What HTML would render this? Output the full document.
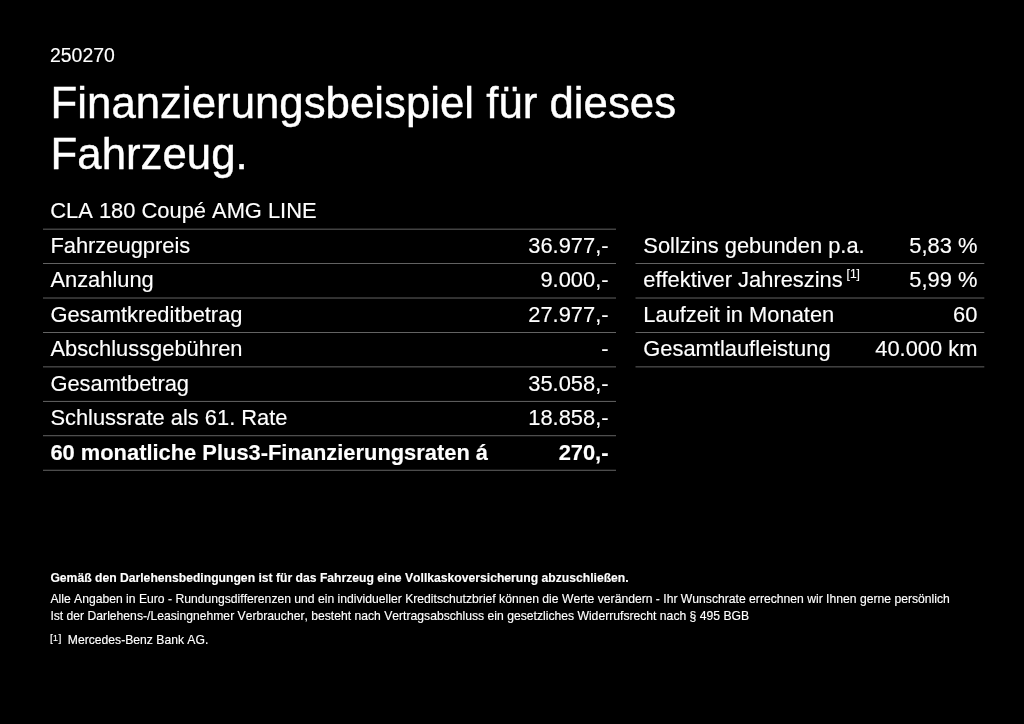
<!DOCTYPE html>
<html lang="de">
<head>
<meta charset="utf-8">
<title>Finanzierungsbeispiel</title>
<style>
html,body{margin:0;padding:0;background:#000;}
body{width:1024px;height:724px;position:relative;overflow:hidden;color:#fff;font-family:"Liberation Sans",Arial,sans-serif;font-kerning:none;-webkit-text-stroke:0.15px #fff;}
.abs{position:absolute;white-space:nowrap;line-height:1;}
.id{left:50px;top:46px;font-size:19.46px;}
.h1{left:50.6px;font-size:43.79px;-webkit-text-stroke:0.4px #fff;}
.sub{left:50.3px;top:200px;font-size:21.89px;}
.l{left:50.4px;font-size:21.89px;}
.r{font-size:21.89px;text-align:right;}
.b{font-weight:bold;}
.f{left:50.4px;font-size:12.16px;}
.fm{font-size:10.4px;position:relative;top:-2.2px;display:inline-block;width:17.9px;margin-left:-0.5px;}
.fm i{font-style:normal;font-size:8.8px;position:relative;top:-0.8px;margin:0 0.6px 0 0.3px;}
sup.fn{font-size:12px;vertical-align:baseline;position:relative;top:-8.6px;margin-left:3.9px;}
</style>
</head>
<body>
<div class="abs id">250270</div>
<div class="abs h1" style="top:81px">Finanzierungsbeispiel für dieses</div>
<div class="abs h1" style="top:132px">Fahrzeug.</div>
<div class="abs sub">CLA 180 Coupé AMG LINE</div>



<svg class="rules" width="1024" height="724" viewBox="0 0 1024 724" style="position:absolute;left:0;top:0" fill="#7c7c7c">
<rect x="43" y="228.73" width="573" height="0.8"/>
<rect x="43" y="263.17" width="573" height="0.8"/>
<rect x="43" y="297.61" width="573" height="0.8"/>
<rect x="43" y="332.05" width="573" height="0.8"/>
<rect x="43" y="366.49" width="573" height="0.8"/>
<rect x="43" y="400.93" width="573" height="0.8"/>
<rect x="43" y="435.37" width="573" height="0.8"/>
<rect x="43" y="469.81" width="573" height="0.8"/>
<rect x="635.5" y="263.17" width="348.8" height="0.8"/>
<rect x="635.5" y="297.61" width="348.8" height="0.8"/>
<rect x="635.5" y="332.05" width="348.8" height="0.8"/>
<rect x="635.5" y="366.49" width="348.8" height="0.8"/>
</svg>
<div class="abs l" style="top:235px">Fahrzeugpreis</div><div class="abs r" style="right:415.5px;top:235px">36.977,-</div>
<div class="abs l" style="top:269px">Anzahlung</div><div class="abs r" style="right:415.5px;top:269px">9.000,-</div>
<div class="abs l" style="top:304px">Gesamtkreditbetrag</div><div class="abs r" style="right:415.5px;top:304px">27.977,-</div>
<div class="abs l" style="top:338px">Abschlussgebühren</div><div class="abs r" style="right:415.5px;top:338px">-</div>
<div class="abs l" style="top:373px">Gesamtbetrag</div><div class="abs r" style="right:415.5px;top:373px">35.058,-</div>
<div class="abs l" style="top:407px">Schlussrate als 61. Rate</div><div class="abs r" style="right:415.5px;top:407px">18.858,-</div>
<div class="abs l b" style="top:442px">60 monatliche Plus3-Finanzierungsraten á</div><div class="abs r b" style="right:415.5px;top:442px">270,-</div>

<div class="abs l" style="left:643.3px;top:235px">Sollzins gebunden p.a.</div><div class="abs r" style="right:46.6px;top:235px">5,83 %</div>
<div class="abs l" style="left:643.3px;top:269px">effektiver Jahreszins<sup class="fn">[1]</sup></div><div class="abs r" style="right:46.6px;top:269px">5,99 %</div>
<div class="abs l" style="left:643.3px;top:304px">Laufzeit in Monaten</div><div class="abs r" style="right:46.6px;top:304px">60</div>
<div class="abs l" style="left:643.3px;top:338px">Gesamtlaufleistung</div><div class="abs r" style="right:46.6px;top:338px">40.000 km</div>

<div class="abs f b" style="top:572px">Gemäß den Darlehensbedingungen ist für das Fahrzeug eine Vollkaskoversicherung abzuschließen.</div>
<div class="abs f" style="top:593px">Alle Angaben in Euro - Rundungsdifferenzen und ein individueller Kreditschutzbrief können die Werte verändern - Ihr Wunschrate errechnen wir Ihnen gerne persönlich</div>
<div class="abs f" style="top:610px">Ist der Darlehens-/Leasingnehmer Verbraucher, besteht nach Vertragsabschluss ein gesetzliches Widerrufsrecht nach § 495 BGB</div>
<div class="abs f" style="top:634px"><span class="fm">[<i>1</i>]</span>Mercedes-Benz Bank AG.</div>
</body>
</html>
